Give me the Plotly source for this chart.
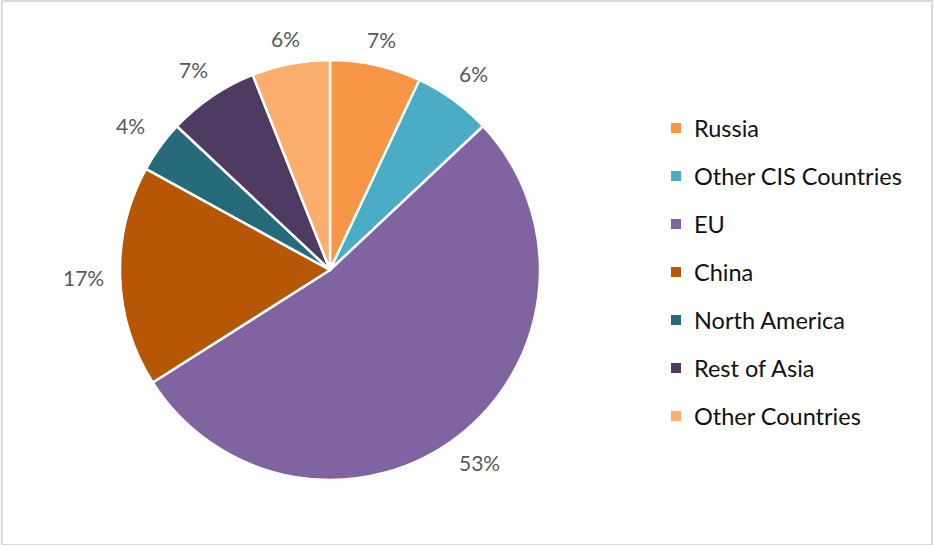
import math
import plotly.graph_objects as go

regions = ["Russia", "Other CIS Countries", "EU", "China",
           "North America", "Rest of Asia", "Other Countries"]
shares = [7, 6, 53, 17, 4, 7, 6]
colors = ["#F79646", "#4BACC6", "#8064A2", "#B65708",
          "#276A7C", "#4D3B62", "#F9AE6E"]

W, H = 934, 545
cx, cy, r = 330, 270, 210

fig = go.Figure(go.Pie(
    labels=regions,
    values=shares,
    sort=False,
    direction="clockwise",
    rotation=0,
    marker=dict(colors=colors, line=dict(color="white", width=2.5)),
    textinfo="none",
    hoverinfo="label+percent",
    showlegend=False,
    domain=dict(x=[(cx - r) / W, (cx + r) / W],
                y=[(H - cy - r) / H, (H - cy + r) / H]),
))

annotations = []

# Percentage labels placed just outside each slice, at its mid-angle
total = sum(shares)
cum = 0
for v in shares:
    mid = (cum + v / 2) / total * 2 * math.pi
    cum += v
    s, c = math.sin(mid), math.cos(mid)
    dist = r + 14 + 22 * abs(s) + 8 * abs(c)
    px = cx + dist * s
    py = cy - dist * c
    annotations.append(dict(text=f"{round(v / total * 100)}%",
                            xref="paper", yref="paper",
                            x=px / W, y=(H - py) / H,
                            xanchor="center", yanchor="middle", showarrow=False,
                            font=dict(family="Lato", size=21, color="#595959")))

# Legend drawn as swatches plus labels, one row per region
shapes = [dict(type="rect", xref="paper", yref="paper", x0=0.002, y0=0.0,
               x1=0.998, y1=0.998, line=dict(color="#D9D9D9", width=2))]
lx, ly0, step = 671, 128, 48
for i, (name, col) in enumerate(zip(regions, colors)):
    yy = ly0 + i * step
    shapes.append(dict(type="rect", xref="paper", yref="paper",
                       x0=lx / W, x1=(lx + 10) / W,
                       y0=(H - yy - 5) / H, y1=(H - yy + 5) / H,
                       fillcolor=col, line=dict(width=0)))
    annotations.append(dict(text=name, xref="paper", yref="paper",
                            x=(lx + 21) / W, y=(H - yy) / H,
                            xanchor="left", yanchor="middle", showarrow=False,
                            font=dict(family="Lato", size=23.5, color="#111111")))

fig.update_layout(
    width=W, height=H,
    margin=dict(l=0, r=0, t=0, b=0),
    paper_bgcolor="white",
    plot_bgcolor="white",
    shapes=shapes,
    annotations=annotations,
)

fig.write_html("out.html")
